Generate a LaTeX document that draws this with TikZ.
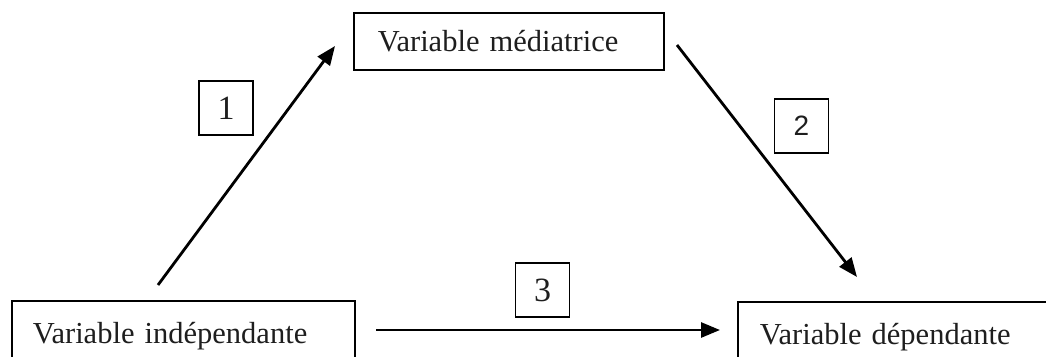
\documentclass[tikz,border=0pt]{standalone}
\usepackage{fontspec}
\setmainfont{Liberation Serif}
\newfontfamily\digitsans{Liberation Sans}
\usetikzlibrary{arrows.meta}
\definecolor{ink}{HTML}{1E1E1E}
\tikzset{
  varbox/.style={draw=black, line width=1.8pt, text=ink, align=left,
    font=\fontsize{30.5}{34}\selectfont, anchor=north west, inner ysep=0pt},
  numbox/.style={draw=black, line width=1.6pt, minimum width=54pt, minimum height=54pt,
    inner sep=0pt, text=ink},
  link/.style={line width=2.8pt, -{Triangle[length=19pt,width=15pt]}}
}
\begin{document}
\begin{tikzpicture}[x=1pt,y=-1pt]
\useasboundingbox (0,0) rectangle (1046,356);
% variable boxes
\node[varbox, minimum width=343pt, minimum height=70pt, inner xsep=21pt, text width=301pt] (vi) at (11,300) {Variable indépendante};
\node[varbox, minimum width=310pt, minimum height=57pt, inner xsep=24pt, text width=262pt] (vm) at (353,12) {Variable médiatrice};
\node[varbox, minimum width=345pt, minimum height=70pt, inner xsep=22pt, text width=301pt] (vd) at (737,301) {Variable dépendante};
% number boxes
\node[numbox, font=\fontsize{34}{36}\selectfont] (n1) at (226,108) {1};
\node[numbox, font=\digitsans\fontsize{28}{30}\selectfont] (n2) at (801.5,126) {2};
\node[numbox, font=\fontsize{34}{36}\selectfont] (n3) at (542.5,290) {3};
% connector ends
\coordinate (a1s) at (158,285);
\coordinate (a1e) at (335,46);
\coordinate (a2s) at (677,45);
\coordinate (a2e) at (857,277);
\coordinate (a3s) at (376,330);
\coordinate (a3e) at (720,330);
\draw[link] (a1s) -- (a1e);
\draw[link] (a2s) -- (a2e);
\draw[link] (a3s) -- (a3e);
\end{tikzpicture}
\end{document}
